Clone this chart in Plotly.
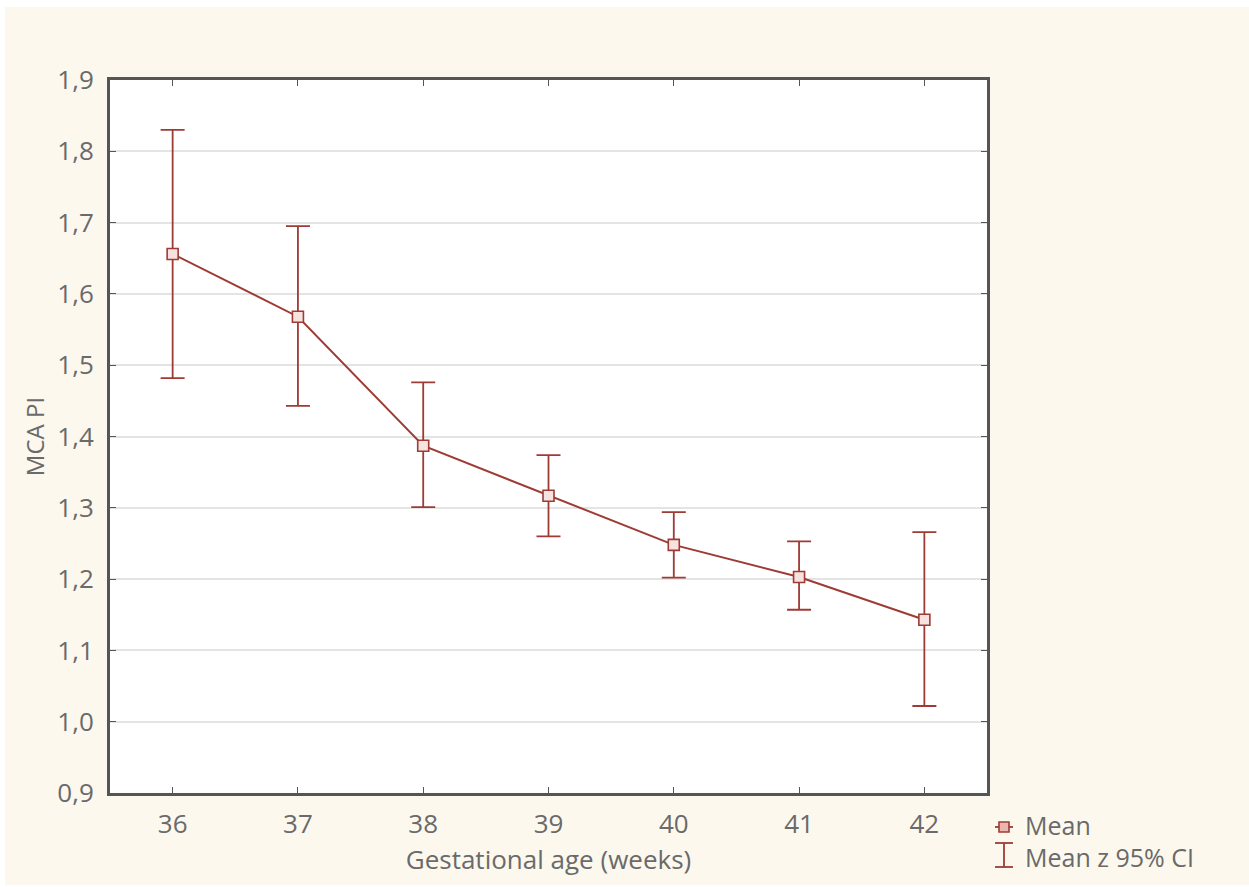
import plotly.graph_objects as go

weeks = [36, 37, 38, 39, 40, 41, 42]
mean = [1.656, 1.568, 1.387, 1.317, 1.248, 1.203, 1.143]
ci_upper = [1.830, 1.695, 1.476, 1.374, 1.294, 1.253, 1.266]
ci_lower = [1.482, 1.443, 1.301, 1.260, 1.202, 1.157, 1.022]

err_plus = [u - m for u, m in zip(ci_upper, mean)]
err_minus = [m - l for m, l in zip(mean, ci_lower)]

RED = "#9e3b34"
CREAM = "#fcf8ee"
TXT = "#6a6a6a"
FONT = "Open Sans"

fig = go.Figure()
fig.add_trace(go.Scatter(
    x=weeks, y=mean, mode="lines+markers",
    line=dict(color=RED, width=2),
    marker=dict(symbol="square", size=11, color="#f6e3df", line=dict(color=RED, width=1.6)),
    error_y=dict(type="data", symmetric=False, array=err_plus, arrayminus=err_minus,
                 color=RED, thickness=1.8, width=12),
    showlegend=False,
))

W, H = 1249, 887
ml, mr, mt, mb = 110, 262, 80, 94
pw, ph = W - ml - mr, H - mt - mb

def px(x):
    return (x - ml) / pw

def py(y):
    return (H - mb - y) / ph

shapes = [
    dict(type="rect", xref="paper", yref="paper", x0=px(5), x1=px(W), y0=py(885), y1=py(7),
         fillcolor=CREAM, line=dict(width=0), layer="below"),
    dict(type="rect", xref="paper", yref="paper", x0=0, x1=1, y0=0, y1=1,
         fillcolor="white", line=dict(width=0), layer="below"),
    # legend I-beam
    dict(type="line", xref="paper", yref="paper", x0=px(1004), x1=px(1004), y0=py(867), y1=py(843),
         line=dict(color=RED, width=1.8)),
    dict(type="line", xref="paper", yref="paper", x0=px(995), x1=px(1013), y0=py(843), y1=py(843),
         line=dict(color=RED, width=1.8)),
    dict(type="line", xref="paper", yref="paper", x0=px(995), x1=px(1013), y0=py(867), y1=py(867),
         line=dict(color=RED, width=1.8)),
    # legend marker
    dict(type="line", xref="paper", yref="paper", x0=px(995), x1=px(1013), y0=py(827), y1=py(827),
         line=dict(color=RED, width=1.8)),
    dict(type="rect", xref="paper", yref="paper", x0=px(999), x1=px(1009), y0=py(832), y1=py(822),
         fillcolor="#e9b7b0", line=dict(color=RED, width=1.6)),
]

annotations = [
    dict(xref="paper", yref="paper", x=px(1023), y=py(825), text="Mean", showarrow=False,
         xanchor="left", yanchor="middle", font=dict(family=FONT, size=25, color=TXT)),
    dict(xref="paper", yref="paper", x=px(1023), y=py(857), text="Mean z 95% CI", showarrow=False,
         xanchor="left", yanchor="middle", font=dict(family=FONT, size=25, color=TXT)),
]

fig.update_layout(
    width=W, height=H,
    margin=dict(l=ml, r=mr, t=mt, b=mb),
    paper_bgcolor="white", plot_bgcolor="white",
    separators=",.",
    font=dict(family=FONT, size=26, color=TXT),
    shapes=shapes, annotations=annotations,
    xaxis=dict(range=[35.5, 42.5], tickvals=weeks, ticks="inside", ticklen=6, tickcolor="#555",
               showline=True, linecolor="#555", linewidth=3, mirror="ticks",
               showgrid=False, zeroline=False, ticklabelstandoff=6,
               tickfont=dict(size=26, color=TXT),
               title=dict(text="Gestational age (weeks)", standoff=2, font=dict(size=26, color=TXT))),
    yaxis=dict(range=[0.9, 1.9], dtick=0.1, tick0=0.9, tickformat=".1f", ticks="inside", ticklen=6,
               tickcolor="#555", showline=True, linecolor="#555", linewidth=3, mirror="ticks",
               showgrid=True, gridcolor="#e4e4e4", gridwidth=2, zeroline=False,
               ticklabelstandoff=8, tickfont=dict(size=26, color=TXT),
               title=dict(text="MCA PI", standoff=6, font=dict(size=24, color=TXT))),
)

fig.write_html("out.html")
